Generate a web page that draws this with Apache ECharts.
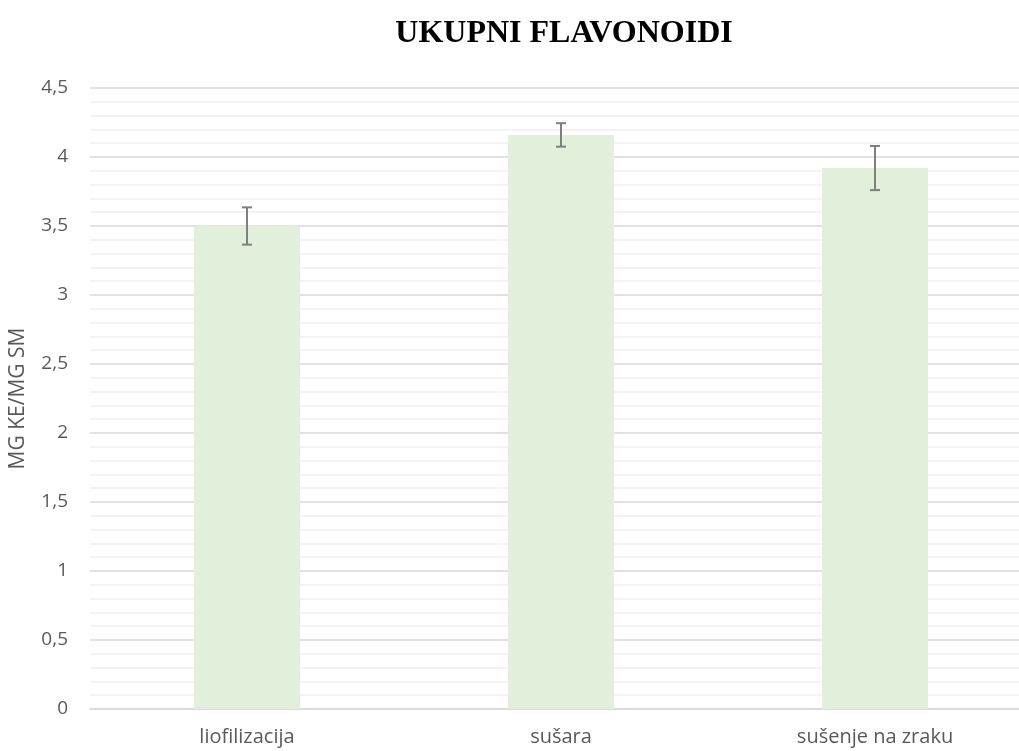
<!DOCTYPE html>
<html>
<head>
<meta charset="utf-8">
<script src="https://cdn.jsdelivr.net/npm/echarts@6/dist/echarts.min.js"></script>
<style>html,body{margin:0;padding:0;background:#fff}#c{width:1019px;height:751px}</style>
</head>
<body>
<div id="c"></div>
<script>
var categories = ['liofilizacija', 'sušara', 'sušenje na zraku'];
var values = [3.5, 4.16, 3.92];
var errors = [0.135, 0.085, 0.16];

var chart = echarts.init(document.getElementById('c'));
var font = '"Open Sans", sans-serif';
chart.setOption({
  animation: false,
  title: {
    text: 'UKUPNI FLAVONOIDI',
    left: 559, top: 13, textAlign: 'center',
    textStyle: {fontFamily: '"Liberation Serif", serif', fontWeight: 'bold', fontSize: 32, color: '#000'}
  },
  grid: {left: 90, top: 88, width: 942, height: 621, outerBoundsMode: 'none', containLabel: false},
  xAxis: {
    type: 'category', data: categories,
    axisLine: {lineStyle: {color: '#d9d9d9', width: 1.5}},
    axisTick: {show: false},
    axisLabel: {fontFamily: font, fontSize: 20, color: '#595959', margin: 18}
  },
  yAxis: {
    type: 'value', min: 0, max: 4.5, interval: 0.5,
    name: 'MG KE/MG SM', nameLocation: 'middle', nameGap: 61, nameRotate: 90,
    nameTextStyle: {fontFamily: font, fontSize: 21, color: '#595959'},
    axisLine: {show: false}, axisTick: {show: false},
    axisLabel: {fontFamily: font, fontSize: 19, color: '#595959', margin: 22,
      formatter: function (v) { return String(v).replace('.', ','); }},
    splitLine: {lineStyle: {color: '#d9d9d9', width: 1.5}},
    minorTick: {show: false, splitNumber: 5},
    minorSplitLine: {show: true, lineStyle: {color: '#f0f0f0', width: 1.5}}
  },
  series: [{
    type: 'bar', data: values, barWidth: 106,
    itemStyle: {color: '#e2efda'}
  }, {
    type: 'custom',
    data: values.map(function (v, i) { return [i, v - errors[i], v + errors[i]]; }),
    renderItem: function (params, api) {
      var lo = api.coord([api.value(0), api.value(1)]);
      var hi = api.coord([api.value(0), api.value(2)]);
      var hw = 5;
      var st = {stroke: '#7f7f7f', lineWidth: 2};
      return {type: 'group', children: [
        {type: 'line', shape: {x1: hi[0], y1: hi[1], x2: lo[0], y2: lo[1]}, style: st},
        {type: 'line', shape: {x1: hi[0] - hw, y1: hi[1], x2: hi[0] + hw, y2: hi[1]}, style: st},
        {type: 'line', shape: {x1: lo[0] - hw, y1: lo[1], x2: lo[0] + hw, y2: lo[1]}, style: st}
      ]};
    },
    z: 10
  }]
});
</script>
</body>
</html>
